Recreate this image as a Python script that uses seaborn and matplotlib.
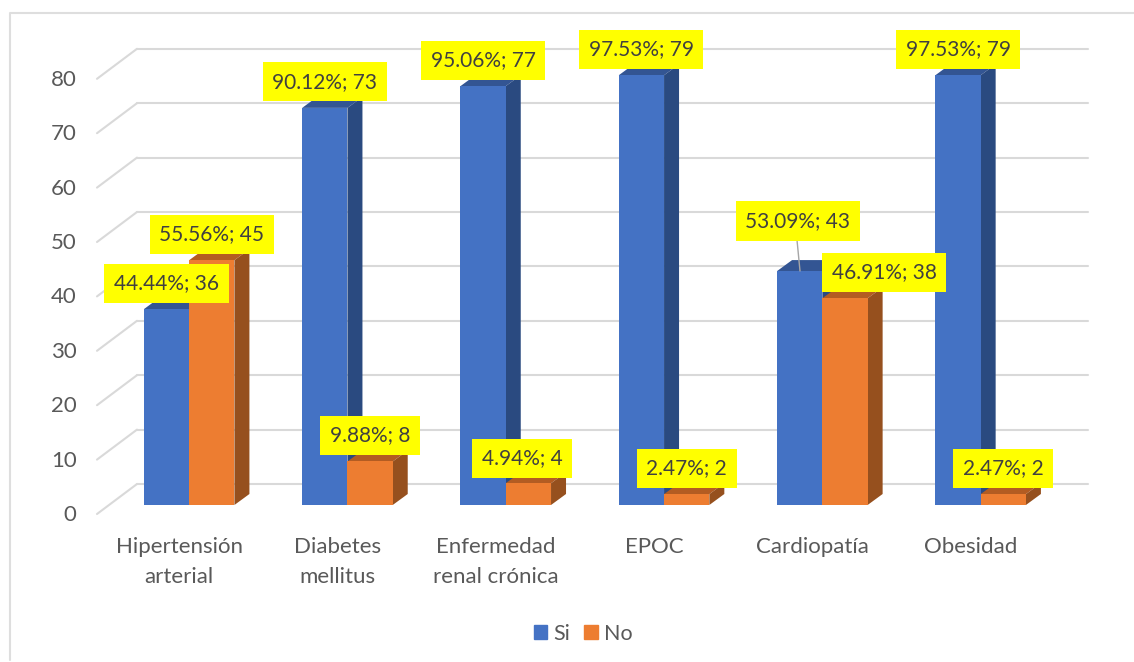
import matplotlib
matplotlib.use('Agg')
import matplotlib.pyplot as plt
import pandas as pd
import seaborn as sns
from matplotlib.lines import Line2D
from matplotlib.patches import Patch, Polygon
from matplotlib.transforms import ScaledTranslation

categorias = ['Hipertensión\narterial', 'Diabetes\nmellitus', 'Enfermedad\nrenal crónica',
              'EPOC', 'Cardiopatía', 'Obesidad']
si_valores = [36, 73, 77, 79, 43, 79]
no_valores = [45, 8, 4, 2, 38, 2]
si_pct = ['44.44%', '90.12%', '95.06%', '97.53%', '53.09%', '97.53%']
no_pct = ['55.56%', '9.88%', '4.94%', '2.47%', '46.91%', '2.47%']
y_ticks = [0, 10, 20, 30, 40, 50, 60, 70, 80]

AZUL, AZUL_TOP, AZUL_SIDE = '#4472c4', '#335593', '#2a4a80'
NARANJA, NARANJA_TOP, NARANJA_SIDE = '#ed7d31', '#b35c22', '#96501e'
GRID = '#d9d9d9'
W, H = 1134, 662

sns.set_theme(style='white')
plt.rcParams['font.family'] = ['Lato', 'DejaVu Sans']

df = pd.DataFrame({
    'categoria': categorias * 2,
    'valor': si_valores + no_valores,
    'serie': ['Si'] * 6 + ['No'] * 6,
})

fig = plt.figure(figsize=(W / 100, H / 100), dpi=100)
# axes placed so one category = 158.3 px and one unit = 5.44 px
x0, x1 = 110, 110 + 6 * 158.3
y0, y1 = 505, 505 - 80 * 5.44
ax = fig.add_axes([x0 / W, 1 - y0 / H, (x1 - x0) / W, (y0 - y1) / H])

sns.barplot(data=df, x='categoria', y='valor', hue='serie', hue_order=['Si', 'No'],
            palette=[AZUL, NARANJA], width=0.572, gap=0, saturation=1, legend=False,
            ax=ax, zorder=4, linewidth=0)
ax.set_xlim(-0.5, 5.5)
ax.set_ylim(0, 80)
ax.set(xlabel='', ylabel='')
sns.despine(ax=ax, left=True, bottom=True)


def px_x(px):
    return px / 158.3


def px_y(px):
    return px / 5.44


def dx(px):
    return -0.5 + (px - x0) / 158.3


# back wall + left side grid lines
for v in y_ticks:
    wall = v + px_y(21)
    ax.plot([dx(137), dx(1088)], [wall, wall], color=GRID, lw=1.5, clip_on=False, zorder=1)
    ax.plot([dx(97), dx(137)], [v - px_y(9), wall], color=GRID, lw=1.5, clip_on=False, zorder=1)

# 3d depth of the bars
depth_x, depth_y = px_x(15), px_y(11)
bars = list(ax.patches)
for n, bar in enumerate(bars):
    a, b = bar.get_x(), bar.get_x() + bar.get_width()
    h = bar.get_height()
    es_si = n < 6
    top = AZUL_TOP if es_si else NARANJA_TOP
    side = AZUL_SIDE if es_si else NARANJA_SIDE
    z = 2 if es_si else 3
    ax.add_patch(Polygon([(a, h), (b, h), (b + depth_x, h + depth_y), (a + depth_x, h + depth_y)],
                         facecolor=top, edgecolor='none', clip_on=False, zorder=z))
    ax.add_patch(Polygon([(b, 0), (b + depth_x, depth_y), (b + depth_x, h + depth_y), (b, h)],
                         facecolor=side, edgecolor='none', clip_on=False, zorder=z))

# data labels, offsets in px from the top of the bar
offsets = {(0, 4): (-2, 50), (1, 4): (39, 26), (1, 2): (-6, 25)}
caja = dict(boxstyle='square,pad=0.46', facecolor='#ffff00', edgecolor='none')
for s, (vals, pcts) in enumerate([(si_valores, si_pct), (no_valores, no_pct)]):
    for i, (v, p) in enumerate(zip(vals, pcts)):
        bar = bars[s * 6 + i]
        off = offsets.get((s, i), (0, 26))
        ax.annotate(f'{p}; {v}', xy=(bar.get_x() + bar.get_width() / 2, v),
                    xytext=(off[0] * 0.72, off[1] * 0.72), textcoords='offset points',
                    ha='center', va='center', fontsize=15, color='#404040',
                    bbox=caja, zorder=6, annotation_clip=False)

# leader line for the Cardiopatia label
ax.plot([dx(797), dx(800)], [(505 - 240) / 5.44, (505 - 271) / 5.44], color='#a6a6a6', lw=1,
        clip_on=False, zorder=5)

ax.set_yticks(y_ticks)
ax.tick_params(axis='both', length=0, labelcolor='#595959')
ax.tick_params(axis='y', labelsize=16, pad=24)
ax.tick_params(axis='x', labelsize=16, pad=23)
for lab in ax.get_yticklabels():
    lab.set_transform(lab.get_transform() + ScaledTranslation(0, -8 / 100, fig.dpi_scale_trans))
for lab in ax.get_xticklabels():
    lab.set_transform(lab.get_transform() + ScaledTranslation(-10 / 100, 0, fig.dpi_scale_trans))
    lab.set_linespacing(1.6)

fig.legend(handles=[Patch(color=AZUL, label='Si'), Patch(color=NARANJA, label='No')],
           loc='center', bbox_to_anchor=(583 / W, 1 - 634 / H), ncol=2, frameon=False,
           fontsize=15.5, labelcolor='#595959', handlelength=0.63, handleheight=0.63,
           handletextpad=0.28, columnspacing=0.65)

# outer chart frame, only left and top sides show
fx = [10 / W, 10 / W, 1]
fy = [2 / H, 1 - 13 / H, 1 - 13 / H]
fig.add_artist(Line2D(fx, fy, color='#dedede', lw=1.5))

fig.savefig('out.png', dpi=100, facecolor='white')
